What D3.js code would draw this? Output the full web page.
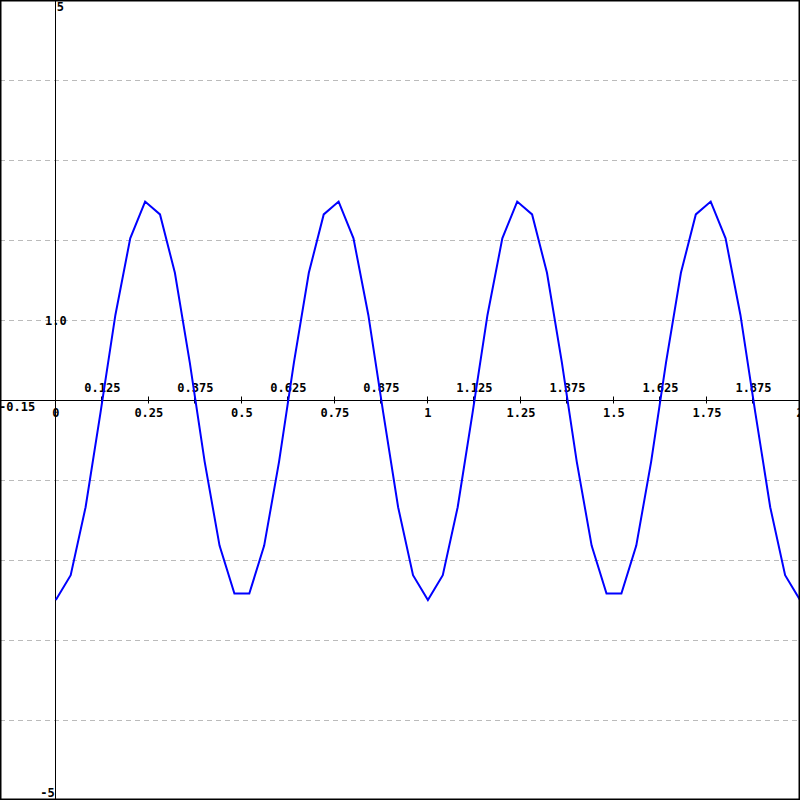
<!DOCTYPE html>
<html><head><meta charset="utf-8">
<script src="https://cdn.jsdelivr.net/npm/d3@7"></script>
<style>body{margin:0;background:#fff}svg{display:block}text{font-family:"DejaVu Sans Mono",monospace;font-weight:bold;font-size:12px;fill:#000}</style>
</head><body>
<script>
const xDomain = [-0.15, 2];
const yDomain = [-5, 5];
const xs = [0,0.04,0.08,0.12,0.16,0.2,0.24,0.28,0.32,0.36,0.4,0.44,0.48,0.52,0.56,0.6,0.64,0.68,0.72,0.76,0.8,0.84,0.88,0.92,0.96,1,
  1.04,1.08,1.12,1.16,1.2,1.24,1.28,1.32,1.36,1.4,1.44,1.48,1.52,1.56,1.6,1.64,1.68,1.72,1.76,1.8,1.84,1.88,1.92,1.96,2];
const ys = [-2.5,-2.19,-1.34,-0.16,1.06,2.02,2.48,2.32,1.59,0.47,-0.77,-1.82,-2.42,-2.42,-1.82,-0.77,0.47,1.59,2.32,2.48,2.02,1.06,-0.16,-1.34,-2.19,-2.5,
  -2.19,-1.34,-0.16,1.06,2.02,2.48,2.32,1.59,0.47,-0.77,-1.82,-2.42,-2.42,-1.82,-0.77,0.47,1.59,2.32,2.48,2.02,1.06,-0.16,-1.34,-2.19,-2.5];
const gridY = [-4,-3,-2,-1,1,2,3,4];
const xTicksMajor = [0,0.25,0.5,0.75,1,1.25,1.5,1.75,2];
const xLabelsMajor = ["0","0.25","0.5","0.75","1","1.25","1.5","1.75","2"];
const xTicksMinor = [0.125,0.375,0.625,0.875,1.125,1.375,1.625,1.875];
const xLabelsMinor = ["0.125","0.375","0.625","0.875","1.125","1.375","1.625","1.875"];

const W = 800, H = 800;
const x = d3.scaleLinear().domain(xDomain).range([0, W]);
const y = d3.scaleLinear().domain(yDomain).range([H, 0]);
const svg = d3.select("body").append("svg").attr("width", W).attr("height", H);

svg.selectAll("line.grid").data(gridY).enter().append("line")
  .attr("x1", 0).attr("x2", W).attr("y1", d => Math.round(y(d)) + 0.5).attr("y2", d => Math.round(y(d)) + 0.5)
  .attr("stroke", "#bbb").attr("stroke-width", 1).attr("stroke-dasharray", "5,4");

const x0 = Math.round(x(0)) - 0.5, y0 = Math.round(y(0)) + 0.5;
svg.append("line").attr("x1", 0).attr("x2", W).attr("y1", y0).attr("y2", y0).attr("stroke", "#000");
svg.append("line").attr("x1", x0).attr("x2", x0).attr("y1", 0).attr("y2", H).attr("stroke", "#000");
svg.selectAll("line.tick").data(xTicksMajor.concat(xTicksMinor)).enter().append("line")
  .attr("x1", d => Math.round(x(d)) - 0.5).attr("x2", d => Math.round(x(d)) - 0.5)
  .attr("y1", y0 - 4).attr("y2", y0 + 3).attr("stroke", "#000");

svg.selectAll("text.maj").data(xTicksMajor).enter().append("text")
  .attr("x", d => x(d)).attr("y", y(0) + 17).attr("text-anchor", "middle")
  .text((d, i) => xLabelsMajor[i]);
svg.selectAll("text.min").data(xTicksMinor).enter().append("text")
  .attr("x", d => x(d)).attr("y", y(0) - 8).attr("text-anchor", "middle")
  .text((d, i) => xLabelsMinor[i]);
svg.append("text").attr("x", -1).attr("y", y(0) + 11).text("-0.15");
svg.append("text").attr("x", x(0) + 1).attr("y", 11).text("5");
svg.append("text").attr("x", x(0)).attr("y", y(1) + 5).attr("text-anchor", "middle").text("1.0");
svg.append("text").attr("x", x(0) - 1).attr("y", H - 3).attr("text-anchor", "end").text("-5");

const line = d3.line().x((d, i) => x(xs[i])).y(d => y(d));
svg.append("path").datum(ys).attr("d", line).attr("fill", "none").attr("stroke", "#0000ff").attr("stroke-width", 2);

svg.append("rect").attr("x", 0.5).attr("y", 0.5).attr("width", W - 1).attr("height", H - 1)
  .attr("fill", "none").attr("stroke", "#000").attr("stroke-width", 2);
</script>
</body></html>
